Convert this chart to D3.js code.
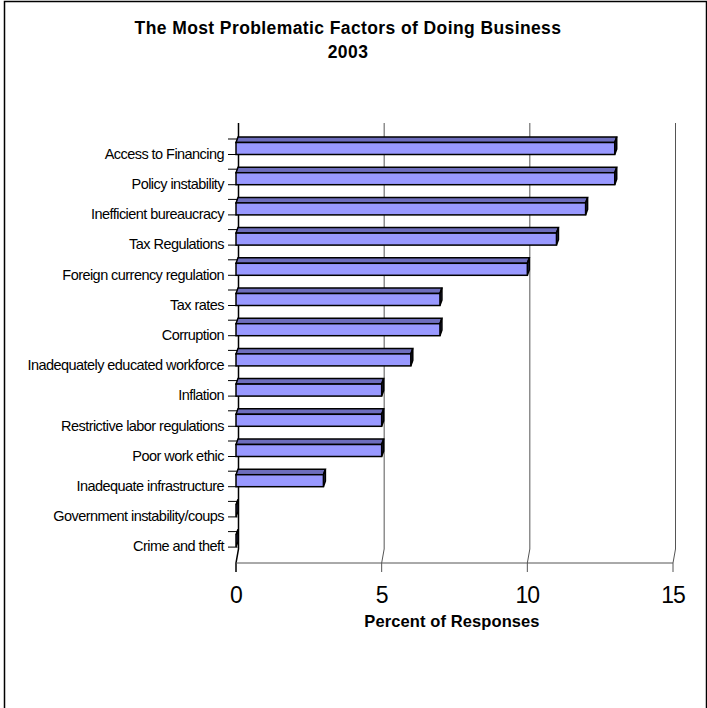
<!DOCTYPE html>
<html>
<head>
<meta charset="utf-8">
<script src="https://cdn.jsdelivr.net/npm/d3@7/dist/d3.min.js"></script>
<style>
  html, body { margin: 0; padding: 0; background: #fff; }
  svg { display: block; font-family: "Liberation Sans", Arial, sans-serif; }
</style>
</head>
<body>
<svg id="chart" width="707" height="708"></svg>
<script>
// Survey results: share of responses naming each factor
const categories = [
  "Access to Financing",
  "Policy instability",
  "Inefficient bureaucracy",
  "Tax Regulations",
  "Foreign currency regulation",
  "Tax rates",
  "Corruption",
  "Inadequately educated workforce",
  "Inflation",
  "Restrictive labor regulations",
  "Poor work ethic",
  "Inadequate infrastructure",
  "Government instability/coups",
  "Crime and theft"
];
const values = [13, 13, 12, 11, 10, 7, 7, 6, 5, 5, 5, 3, 0, 0];
const xTicks = [0, 5, 10, 15];
const titleLines = ["The Most Problematic Factors of Doing Business", "2003"];
const xTitle = "Percent of Responses";

const svg = d3.select("#chart");

// Outer chart frame
svg.append("rect")
  .attr("x", 4.5).attr("y", 1.5)
  .attr("width", 702).attr("height", 712)
  .attr("fill", "none").attr("stroke", "#000").attr("stroke-width", 1.5);

// Front-plane value scale and category bands
const x = d3.scaleLinear().domain([0, 15]).range([236, 673]);
const y = d3.scaleBand().domain(categories).range([127, 127 + 14 * 30.2]).paddingInner(0);

// Depth offset between the front plane and the back wall
const wallDX = 2.5, wallTop = 123, wallBottom = 549, floorY = 563;

// Back-wall gridlines, bending forward to the value axis
const grid = svg.append("g");
xTicks.forEach(v => {
  const xf = x(v), xb = x(v) + wallDX;
  grid.append("path")
    .attr("d", `M${xb},${wallTop}L${xb},${wallBottom}L${xf},${floorY}L${xf},${floorY + 9}`)
    .attr("fill", "none")
    .attr("stroke", v === 0 ? "#000" : "#555")
    .attr("stroke-width", v === 0 ? 1.5 : 1);
});

// Value axis line along the floor front
svg.append("line")
  .attr("x1", x(0)).attr("x2", x(15))
  .attr("y1", floorY).attr("y2", floorY)
  .attr("stroke", "#555").attr("stroke-width", 1);

// Category tick marks on the left wall
const ticks = svg.append("g");
categories.forEach(c => {
  const b = y(c);
  [b + 12, b + 27.5].forEach(ty => {
    ticks.append("line")
      .attr("x1", 228).attr("x2", 237.5)
      .attr("y1", ty).attr("y2", ty)
      .attr("stroke", "#000").attr("stroke-width", 1);
  });
});

// 3D bars: top face, front face and end cap
const barDX = 2, barDY = 5.5, frontTop = 15.5, frontH = 12;
const bars = svg.append("g");
categories.forEach((c, i) => {
  const b = y(c);
  const x0 = x(0), x1 = x(values[i]);
  const ft = b + frontTop, fb = ft + frontH;
  const g = bars.append("g")
    .attr("stroke", "#000").attr("stroke-width", 1.5).attr("stroke-linejoin", "miter");
  g.append("path")
    .attr("d", `M${x0},${ft}L${x1},${ft}L${x1 + barDX},${ft - barDY}L${x0 + barDX},${ft - barDY}Z`)
    .attr("fill", "#6e6ebd");
  g.append("path")
    .attr("d", `M${x1},${ft}L${x1 + barDX},${ft - barDY}L${x1 + barDX},${fb - barDY}L${x1},${fb}Z`)
    .attr("fill", "#333366");
  g.append("rect")
    .attr("x", x0).attr("y", ft)
    .attr("width", x1 - x0).attr("height", frontH)
    .attr("fill", "#9999ff");
});

// Category labels
svg.append("g").selectAll("text")
  .data(categories)
  .join("text")
  .attr("x", 224)
  .attr("y", d => y(d) + 28)
  .attr("text-anchor", "end")
  .attr("dominant-baseline", "middle")
  .attr("font-size", 14.5)
  .attr("letter-spacing", -0.55)
  .attr("fill", "#000")
  .text(d => d);

// Value tick labels
svg.append("g").selectAll("text")
  .data(xTicks)
  .join("text")
  .attr("x", d => x(d))
  .attr("y", 603)
  .attr("text-anchor", "middle")
  .attr("font-size", 23)
  .attr("letter-spacing", -1)
  .attr("fill", "#000")
  .text(d => d);

// Axis title
svg.append("text")
  .attr("x", 452).attr("y", 627)
  .attr("text-anchor", "middle")
  .attr("font-size", 16.5).attr("font-weight", "bold")
  .attr("letter-spacing", 0.1)
  .text(xTitle);

// Chart title
svg.append("g").selectAll("text")
  .data(titleLines)
  .join("text")
  .attr("x", 348)
  .attr("y", (d, i) => 34 + i * 24)
  .attr("text-anchor", "middle")
  .attr("font-size", 17.5).attr("font-weight", "bold")
  .attr("letter-spacing", 0.4)
  .text(d => d);
</script>
</body>
</html>
